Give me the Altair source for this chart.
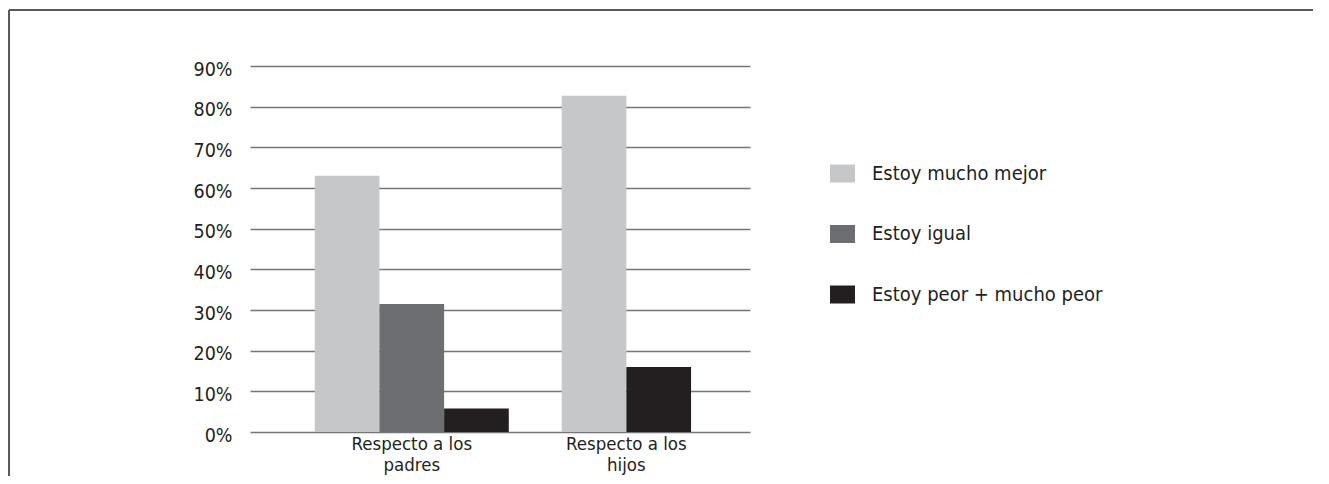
import altair as alt
import pandas as pd

# ---- data ----
categories = ["Respecto a los padres", "Respecto a los hijos"]
category_labels = ["Respecto a los\npadres", "Respecto a los\nhijos"]
series = ["Estoy mucho mejor", "Estoy igual", "Estoy peor + mucho peor"]
values_padres = [63, 31.5, 5.8]
values_hijos = [82.7, None, 16]
y_ticks = [0, 10, 20, 30, 40, 50, 60, 70, 80, 90]
colors = ["#c6c7c9", "#6d6e71", "#231f20"]

FONT = "'Liberation Sans Narrow', 'Arial Narrow', 'DejaVu Sans Condensed', sans-serif"
TEXT = "#231f20"
GAP = 0.818  # empty space between groups, in bar widths

rows = []
labels = []
pos = 0.0
for gi, (cat, vals) in enumerate(zip(categories, [values_padres, values_hijos])):
    start = pos
    for s, v in zip(series, vals):
        if v is None:
            continue
        rows.append({"categoria": cat, "serie": s, "valor": v, "x0": pos, "x1": pos + 1})
        pos += 1
    labels.append({"categoria": cat, "label": category_labels[gi], "xc": (start + pos) / 2})
    pos += GAP

bars_df = pd.DataFrame(rows)
labels_df = pd.DataFrame(labels)

xscale = alt.Scale(domain=[-0.924, 6.652], nice=False, zero=False)
yscale = alt.Scale(domain=[0, 90], nice=False)

bars = alt.Chart(bars_df).mark_bar(stroke=None, orient="vertical").encode(
    x=alt.X("x0:Q", scale=xscale, axis=None),
    x2="x1:Q",
    y=alt.Y(
        "valor:Q",
        scale=yscale,
        axis=alt.Axis(
            values=y_ticks,
            labelExpr="datum.value + '%'",
            domain=False,
            ticks=False,
            grid=True,
            gridColor="#75767a",
            gridWidth=1.5,
            labelPadding=18,
            labelOffset=3,
            labelFont=FONT,
            labelFontSize=19.5,
            labelColor=TEXT,
            title=None,
        ),
    ),
    y2=alt.datum(0),
    color=alt.Color(
        "serie:N",
        scale=alt.Scale(domain=series, range=colors),
        legend=alt.Legend(
            title=None,
            orient="none",
            legendX=580,
            legendY=95,
            symbolType="M-1,-0.72H1V0.72H-1Z",
            symbolSize=625,
            symbolStrokeWidth=0,
            symbolOpacity=1,
            labelFont=FONT,
            labelFontSize=20,
            labelColor=TEXT,
            labelOffset=17,
            labelLimit=500,
            rowPadding=37.5,
        ),
    ),
)

cat_text = alt.Chart(labels_df).mark_text(
    font=FONT, fontSize=18.5, color=TEXT, align="center", baseline="alphabetic",
    dy=18, lineBreak="\n", lineHeight=21,
).encode(
    x=alt.X("xc:Q", scale=xscale),
    y=alt.datum(0),
    text="label:N",
)

frame = alt.Data(values=[{"k": 1}])
left_border = alt.Chart(frame).mark_rule(color="#58595b", strokeWidth=2).encode(
    x=alt.value(-241), y=alt.value(-56), y2=alt.value(420)
)
top_border = alt.Chart(frame).mark_rule(color="#58595b", strokeWidth=2).encode(
    x=alt.value(-241), x2=alt.value(1071), y=alt.value(-56)
)

chart = alt.layer(bars, cat_text, left_border, top_border).properties(
    width=500,
    height=366,
    autosize=alt.AutoSizeParams(type="none"),
    padding={"left": 242, "top": 58, "right": 563, "bottom": 44},
).configure(font=FONT, view=alt.ViewConfig(stroke=None))

chart.save("out.html", embed_options={"renderer": "svg", "actions": False})
